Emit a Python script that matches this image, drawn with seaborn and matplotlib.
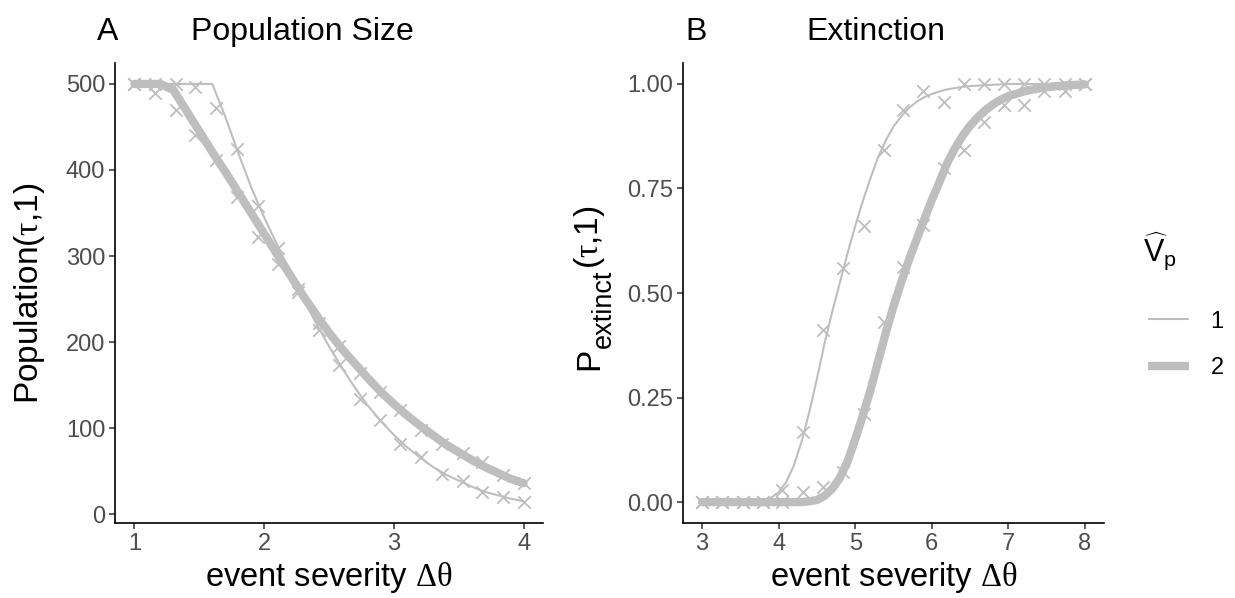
import numpy as np
import pandas as pd
import matplotlib
matplotlib.use("Agg")
import matplotlib.pyplot as plt
from matplotlib.lines import Line2D
import seaborn as sns

# ---- data ----
# panel A: simulated population size (points) and fitted curve (lines)
xA_pts = [1.00, 1.16, 1.32, 1.47, 1.63, 1.79, 1.95, 2.11, 2.26, 2.42,
          2.58, 2.74, 2.89, 3.05, 3.21, 3.37, 3.53, 3.68, 3.84, 4.00]
popA_sim_v1 = [500, 489, 500, 497, 472, 424, 358, 309, 262, 214,
               173, 134, 109, 82, 67, 47, 38, 26, 20, 14]
popA_sim_v2 = [500, 500, 470, 441, 412, 369, 322, 291, 258, 222,
               195, 164, 142, 121, 98, 82, 71, 61, 45, 36]

xA_line = [1.0, 1.1, 1.2, 1.3, 1.4, 1.5, 1.6, 1.7, 1.8, 1.9, 2.0,
           2.1, 2.2, 2.3, 2.4, 2.5, 2.6, 2.7, 2.8, 2.9, 3.0,
           3.1, 3.2, 3.3, 3.4, 3.5, 3.6, 3.7, 3.8, 3.9, 4.0]
popA_fit_v1 = [500, 500, 500, 500, 500, 500, 500, 462, 420, 380, 345,
               313, 282, 251, 222, 195, 170, 147, 126, 108, 92,
               78, 66, 55, 46, 39, 32, 26, 22, 18, 15]
popA_fit_v2 = [500, 500, 500, 493, 469, 445, 421, 398, 374, 350, 326,
               302, 278, 254, 232, 211, 192, 175, 158, 142, 128,
               115, 103, 92, 81, 72, 63, 55, 48, 41, 36]

# panel B: extinction probability
xB_pts = [3.00, 3.26, 3.53, 3.79, 4.05, 4.32, 4.58, 4.84, 5.11, 5.37,
          5.63, 5.89, 6.16, 6.42, 6.68, 6.95, 7.21, 7.47, 7.74, 8.00]
pB_sim_v1 = [0, 0, 0, 0, 0.028, 0.168, 0.411, 0.559, 0.661, 0.842,
             0.938, 0.982, 0.958, 1, 1, 1, 1, 1, 1, 1]
pB_sim_v2 = [0, 0, 0, 0, 0, 0.024, 0.036, 0.072, 0.211, 0.431,
             0.563, 0.662, 0.798, 0.842, 0.910, 0.950, 0.950, 0.982, 0.982, 1]

xB_line = [3.0, 3.1, 3.2, 3.3, 3.4, 3.5, 3.6, 3.7, 3.8, 3.9,
           4.0, 4.1, 4.2, 4.3, 4.4, 4.5, 4.6, 4.7, 4.8, 4.9,
           5.0, 5.1, 5.2, 5.3, 5.4, 5.5, 5.6, 5.7, 5.8, 5.9,
           6.0, 6.1, 6.2, 6.3, 6.4, 6.5, 6.6, 6.7, 6.8, 6.9,
           7.0, 7.1, 7.2, 7.3, 7.4, 7.5, 7.6, 7.7, 7.8, 7.9, 8.0]
pB_fit_v1 = [0, 0, 0, 0, 0, 0, 0.001, 0.002, 0.004, 0.010,
             0.024, 0.048, 0.088, 0.145, 0.215, 0.295, 0.380, 0.455, 0.525, 0.595,
             0.660, 0.720, 0.775, 0.825, 0.865, 0.898, 0.922, 0.942, 0.957, 0.968,
             0.976, 0.982, 0.987, 0.990, 0.993, 0.995, 0.996, 0.997, 0.998, 0.999,
             1, 1, 1, 1, 1, 1, 1, 1, 1, 1, 1]
pB_fit_v2 = [0, 0, 0, 0, 0, 0, 0, 0, 0, 0,
             0, 0, 0, 0, 0.002, 0.005, 0.015, 0.032, 0.058, 0.097,
             0.150, 0.207, 0.268, 0.337, 0.405, 0.468, 0.525, 0.578, 0.627, 0.675,
             0.722, 0.765, 0.810, 0.845, 0.875, 0.900, 0.920, 0.937, 0.951, 0.962,
             0.971, 0.976, 0.982, 0.986, 0.989, 0.992, 0.994, 0.996, 0.997, 0.998, 0.999]

vp_levels = [1, 2]

# long tables for seaborn
def long_table(x, ys):
    return pd.DataFrame({
        "x": list(x) * len(ys),
        "y": [v for y in ys for v in y],
        "Vp": [lev for lev, y in zip(vp_levels, ys) for _ in y],
    })

simA = long_table(xA_pts, [popA_sim_v1, popA_sim_v2])
fitA = long_table(xA_line, [popA_fit_v1, popA_fit_v2])
simB = long_table(xB_pts, [pB_sim_v1, pB_sim_v2])
fitB = long_table(xB_line, [pB_fit_v1, pB_fit_v2])

GREY = "#BEBEBE"
TICK_GREY = "#4D4D4D"
line_sizes = {1: 1.5, 2: 6.0}

sns.set_theme(style="ticks")
plt.rcParams["font.family"] = ["Liberation Sans", "DejaVu Sans"]
plt.rcParams["text.color"] = "black"
plt.rcParams["axes.labelcolor"] = "black"
plt.rcParams["mathtext.fontset"] = "custom"
plt.rcParams["mathtext.rm"] = "Liberation Serif"
plt.rcParams["mathtext.sf"] = "Liberation Sans"
plt.rcParams["mathtext.it"] = "Liberation Serif:italic"

W, H = 1235, 598
fig = plt.figure(figsize=(W / 100, H / 100), dpi=100)
axA = fig.add_axes([0.0931, 0.1254, 0.3466, 0.7692])
axB = fig.add_axes([0.5530, 0.1254, 0.3409, 0.7692])


def draw(ax, sim, fit):
    sns.lineplot(data=fit, x="x", y="y", size="Vp", sizes=line_sizes,
                 color=GREY, estimator=None, legend=False, ax=ax)
    sns.scatterplot(data=sim, x="x", y="y", marker="x", color=GREY,
                    s=80, linewidth=1.3, legend=False, ax=ax, zorder=3)


def expand(lo, hi, frac=0.05):
    r = hi - lo
    return lo - frac * r, hi + frac * r


draw(axA, simA, fitA)
draw(axB, simB, fitB)

axA.set_xlim(*expand(1, 4))
axA.set_ylim(*expand(min(simA.y.min(), fitA.y.min()), max(simA.y.max(), fitA.y.max())))
axA.set_xticks([1, 2, 3, 4])
axA.set_yticks([0, 100, 200, 300, 400, 500])

axB.set_xlim(*expand(3, 8))
axB.set_ylim(*expand(0, 1))
axB.set_xticks([3, 4, 5, 6, 7, 8])
axB.set_yticks([0, 0.25, 0.5, 0.75, 1.0])
axB.set_yticklabels(["0.00", "0.25", "0.50", "0.75", "1.00"])

for ax in (axA, axB):
    sns.despine(ax=ax)
    for s in ("left", "bottom"):
        ax.spines[s].set_linewidth(1.2)
        ax.spines[s].set_color("black")
    ax.tick_params(axis="both", labelsize=17, labelcolor=TICK_GREY,
                   color="#333333", length=4, width=1.1, pad=3)
    ax.set_xlabel(r"event severity $\mathrm{\Delta\theta}$", fontsize=23.5)
    ax.xaxis.set_label_coords(0.5, -0.08)

axA.set_ylabel(r"Population($\mathrm{\tau}$,1)", fontsize=24)
axA.yaxis.set_label_coords(-0.158, 0.5)
axB.set_ylabel("")

# panel B y label built from pieces so the subscript keeps ggplot's size
fig.canvas.draw()
rend = fig.canvas.get_renderer()
parts = [("P", 24, 598), ("extinct", 19.5, 611), (r"($\mathrm{\tau}$,1)", 24, 598)]
pieces = []
for txt, fs, xb in parts:
    t = fig.text(xb / W, 0.5, txt, fontsize=fs, rotation=90,
                 rotation_mode="anchor", ha="left", va="baseline")
    pieces.append(t)
lengths = [t.get_window_extent(renderer=rend).height for t in pieces]
y0 = (H - 288) - sum(lengths) / 2
for t, ln in zip(pieces, lengths):
    t.set_y(y0 / H)
    y0 += ln

# panel tags and titles
fig.text(97 / W, 1 - 40 / H, "A", fontsize=23, ha="left", va="baseline")
fig.text(302 / W, 1 - 40 / H, "Population Size", fontsize=23, ha="center", va="baseline")
fig.text(685 / W, 1 - 40 / H, "B", fontsize=23, ha="left", va="baseline")
fig.text(876 / W, 1 - 40 / H, "Extinction", fontsize=23, ha="center", va="baseline")

# legend: title as its own text, entries below it
fig.text(1143 / W, 1 - 262 / H, r"$\widehat{\mathsf{V}}_{\mathsf{p}}$",
         fontsize=22, ha="left", va="baseline")
handles = [Line2D([], [], color=GREY, lw=line_sizes[v], solid_capstyle="butt")
           for v in vp_levels]
fig.legend(handles, [str(v) for v in vp_levels],
           loc="center left", bbox_to_anchor=(1148 / W, 1 - 345 / H),
           frameon=False, fontsize=17,
           handlelength=1.75, handletextpad=0.9, labelspacing=1.05,
           borderaxespad=0, borderpad=0)

fig.savefig("out.png", dpi=100)
